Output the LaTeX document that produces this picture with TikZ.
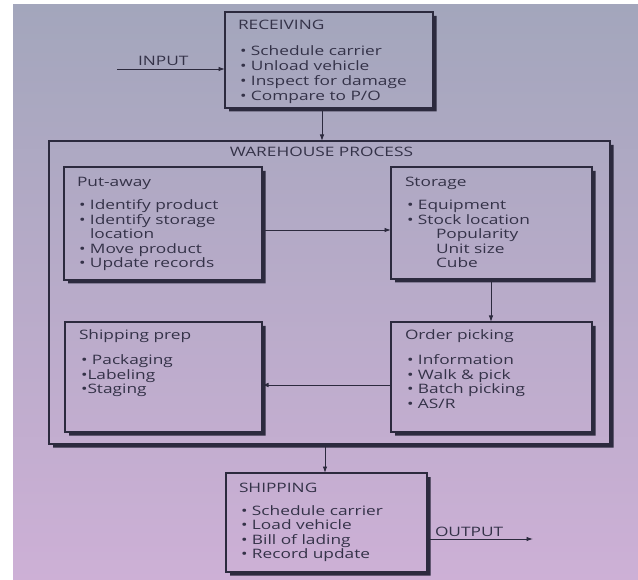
\documentclass[tikz,border=0pt]{standalone}
\usepackage{fontspec}
\setmainfont{Open Sans}[FakeStretch=1.33]
\usetikzlibrary{arrows.meta}
\definecolor{ink}{RGB}{44,42,62}
\definecolor{textink}{RGB}{52,50,72}
\definecolor{bgtop}{RGB}{163,166,188}
\definecolor{bgmid}{RGB}{192,186,208}
\definecolor{bgbot}{RGB}{205,176,214}
\newcommand\boxshadow[1]{%
  \fill[ink] ([shift={(0pt,-4pt)}]#1.north east) -- ([shift={(3.5pt,-4pt)}]#1.north east)
    -- ([shift={(3.5pt,-3.5pt)}]#1.south east) -- ([shift={(4pt,-3.5pt)}]#1.south west)
    -- ([shift={(4pt,0pt)}]#1.south west) -- (#1.south east) -- cycle;}
\tikzset{
  lbl/.style={anchor=base west, inner sep=0pt, outer sep=0pt, text=textink,
    font=\fontsize{13}{15}\selectfont},
  stagebox/.style={draw=ink, line width=1.1pt, anchor=north west, inner sep=0pt, outer sep=0pt},
  flow/.style={draw=ink, line width=0.9pt, -{Latex[length=6.5pt,width=4.5pt]}}
}
\begin{document}
\begin{tikzpicture}[x=1pt, y=-1pt]
\useasboundingbox (0,0) rectangle (638,580);
% page background
\fill[white] (0,0) rectangle (638,580);
\shade[top color=bgtop, middle color=bgmid, bottom color=bgbot] (13,5) rectangle (638,580);

% stage boxes
\node[stagebox, minimum width=208pt, minimum height=96pt] (recv) at (225,12) {};
\node[stagebox, minimum width=561pt, minimum height=303pt] (wh) at (49,141) {};
\node[stagebox, minimum width=198pt, minimum height=113pt] (put) at (64,167) {};
\node[stagebox, minimum width=201pt, minimum height=112pt] (stor) at (391,167) {};
\node[stagebox, minimum width=197pt, minimum height=110pt] (prep) at (65,322) {};
\node[stagebox, minimum width=201pt, minimum height=110pt] (pick) at (391,322) {};
\node[stagebox, minimum width=201pt, minimum height=99pt] (ship) at (226,473) {};
\foreach \b in {recv,wh,put,stor,prep,pick,ship} {\boxshadow{\b}}

% receiving
\node[lbl] (recv-t) at (238,30) {RECEIVING};
\foreach \t [count=\i] in {• Schedule carrier,• Unload vehicle,• Inspect for damage,• Compare to P/O}
  \node[lbl] (recv-\i) at (240,{56+14.7*(\i-1)}) {\t};

% warehouse process
\node[lbl, anchor=base] (wh-t) at (321.5,157) {WAREHOUSE PROCESS};

\node[lbl] (put-t) at (77,187) {Put-away};
\foreach \t [count=\i] in {• Identify product,• Identify storage}
  \node[lbl] (put-\i) at (79,{210+14.5*(\i-1)}) {\t};
\node[lbl] (put-3) at (90,239) {location};
\foreach \t [count=\i from 4] in {• Move product,• Update records}
  \node[lbl] (put-\i) at (79,{210+14.5*(\i-1)}) {\t};

\node[lbl] (stor-t) at (405,187) {Storage};
\foreach \t [count=\i] in {• Equipment,• Stock location}
  \node[lbl] (stor-\i) at (407,{210+14.5*(\i-1)}) {\t};
\foreach \t [count=\i from 3] in {Popularity,Unit size,Cube}
  \node[lbl] (stor-\i) at (436,{210+14.5*(\i-1)}) {\t};

\node[lbl] (pick-t) at (405,340) {Order picking};
\foreach \t [count=\i] in {• Information,• Walk \& pick,• Batch picking,• AS/R}
  \node[lbl] (pick-\i) at (407,{365+14.5*(\i-1)}) {\t};

\node[lbl] (prep-t) at (79,340) {Shipping prep};
\foreach \t [count=\i] in {• Packaging,•Labeling,•Staging}
  \node[lbl] (prep-\i) at (81,{365+14.5*(\i-1)}) {\t};

% shipping
\node[lbl] (ship-t) at (239,492) {SHIPPING};
\foreach \t [count=\i] in {• Schedule carrier,• Load vehicle,• Bill of lading,• Record update}
  \node[lbl] (ship-\i) at (241,{515+14.5*(\i-1)}) {\t};

% flow connectors
\coordinate (inS) at (117,69);
\coordinate (outE) at (533,539);
\coordinate (c1) at (322,0);
\coordinate (c2) at (0,230);
\coordinate (c3) at (491,0);
\coordinate (c4) at (0,385);
\coordinate (c5) at (325,0);
\draw[flow] (inS) -- (inS -| recv.west);
\node[lbl] (in-l) at (138,66) {INPUT};
\draw[flow] (c1 |- recv.south) -- (c1 |- wh.north);
\draw[flow] (c2 -| put.east) -- (c2 -| stor.west);
\draw[flow] (c3 |- stor.south) -- (c3 |- pick.north);
\draw[flow] (c4 -| pick.west) -- (c4 -| prep.east);
\draw[flow] (c5 |- wh.south) -- (c5 |- ship.north);
\draw[flow] (outE -| ship.east) -- (outE);
\node[lbl] (out-l) at (435,536) {OUTPUT};
\end{tikzpicture}
\end{document}
